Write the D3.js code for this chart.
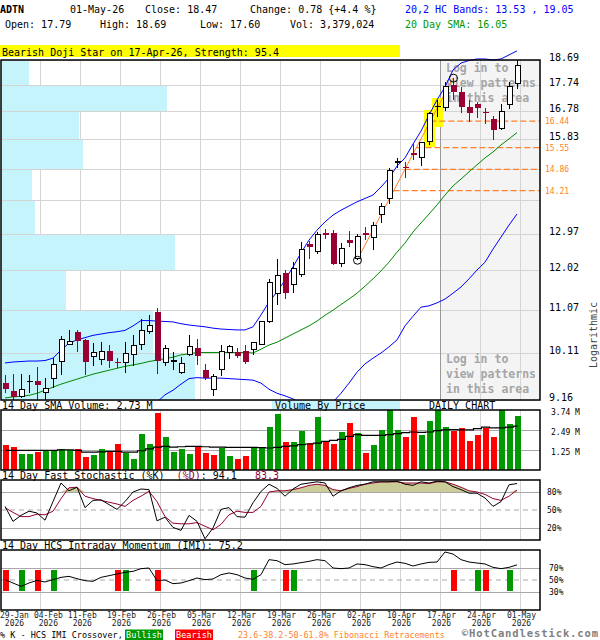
<!DOCTYPE html>
<html><head><meta charset="utf-8">
<script src="https://cdn.jsdelivr.net/npm/d3@7/dist/d3.min.js"></script>
<style>
html,body{margin:0;padding:0;background:#fff;}
svg{display:block;font-family:"DejaVu Sans Mono",monospace;}
svg text{white-space:pre;}
</style></head><body>
<svg id="c" width="600" height="640"></svg>
<script>
// ---------------- DATA ----------------
const ticker = "ADTN";
const lastDate = "01-May-26";
const lastVolume = 3379024;
const patternText = "Bearish Doji Star on 17-Apr-26, Strength: 95.4";

const open  = [9.50,9.33,9.23,9.51,9.53,9.31,9.59,9.93,10.29,10.56,10.39,10.04,9.98,10.15,9.93,9.91,10.08,10.29,10.57,11.02,9.91,9.92,9.71,10.07,10.21,9.75,9.37,9.77,10.11,10.14,10.15,10.19,10.29,10.79,11.46,11.95,11.68,11.93,12.70,12.52,12.99,12.99,12.20,12.81,12.33,13.01,12.88,13.52,13.98,15.06,14.94,15.37,15.23,15.75,16.95,16.91,17.74,17.49,16.95,17.03,16.76,16.51,16.20,17.03,17.79];
const high  = [9.65,9.67,9.67,9.65,9.81,9.59,10.00,10.47,10.61,10.61,10.40,10.32,10.35,10.28,10.00,10.35,10.50,10.85,10.95,11.10,10.28,10.14,10.03,10.50,10.40,9.88,9.67,10.28,10.28,10.21,10.28,10.35,10.80,11.80,12.31,12.03,12.24,12.77,12.79,13.04,13.11,13.08,12.72,13.06,12.97,13.17,13.31,13.84,14.89,15.23,15.08,15.69,15.75,16.77,17.19,17.84,17.99,17.67,17.19,17.13,16.89,16.63,17.03,17.84,18.69];
const low   = [9.29,9.16,9.20,9.29,9.16,9.16,9.39,9.65,10.28,10.14,9.65,9.84,9.86,9.79,9.79,9.69,9.84,10.17,10.53,9.67,9.84,9.75,9.67,10.05,9.86,9.55,9.24,9.63,9.98,10.00,9.88,10.07,10.28,10.76,11.18,11.31,11.47,11.86,12.30,12.43,12.83,12.16,12.11,12.63,12.28,12.81,12.55,13.27,13.81,14.90,14.58,15.15,14.97,15.64,16.59,16.79,17.19,16.71,16.42,16.56,16.33,15.80,16.14,16.85,17.60];
const close = [9.37,9.21,9.37,9.52,9.46,9.39,9.87,10.40,10.35,10.37,9.93,10.12,10.15,9.95,9.89,10.09,10.28,10.59,10.70,9.94,10.21,9.96,9.89,10.24,10.05,9.59,9.62,10.14,10.24,10.05,9.93,10.33,10.79,11.71,11.89,11.46,12.07,12.55,12.63,12.97,12.94,12.18,12.59,12.72,12.90,12.95,13.22,13.74,14.82,15.12,14.89,15.31,15.73,16.69,16.95,17.67,17.49,16.95,16.74,16.91,16.74,16.14,16.79,17.69,18.47];

const bandUpper = [9.90,9.92,9.93,9.94,9.94,9.95,10.00,10.17,10.32,10.39,10.44,10.49,10.52,10.55,10.57,10.60,10.70,10.82,10.82,10.81,10.80,10.79,10.75,10.72,10.70,10.68,10.65,10.63,10.62,10.61,10.61,10.68,10.95,11.25,11.49,11.78,12.11,12.47,12.81,13.08,13.31,13.50,13.64,13.76,13.88,13.98,14.08,14.32,14.59,14.96,15.22,15.67,16.10,16.65,17.19,17.66,18.30,18.57,18.67,18.73,18.73,18.69,18.73,18.89,19.05];
const bandLower = [null,null,null,null,null,null,null,null,null,null,null,null,null,null,null,null,null,null,null,9.12,9.26,9.35,9.47,9.58,9.60,9.59,9.59,9.59,9.58,9.57,9.56,9.55,9.49,9.37,9.29,9.24,9.18,9.10,9.05,9.01,9.03,9.12,9.29,9.49,9.71,9.88,10.00,10.11,10.24,10.39,10.70,10.92,11.13,11.16,11.23,11.32,11.46,11.61,11.81,12.03,12.23,12.57,12.89,13.22,13.53];
const sma20 = [9.20,9.22,9.23,9.25,9.29,9.35,9.41,9.47,9.52,9.57,9.62,9.67,9.71,9.75,9.79,9.83,9.86,9.89,9.93,9.96,9.99,10.02,10.07,10.09,10.12,10.12,10.12,10.12,10.12,10.12,10.12,10.11,10.19,10.28,10.34,10.43,10.52,10.61,10.70,10.81,10.94,11.06,11.19,11.32,11.46,11.63,11.81,12.01,12.23,12.49,12.73,13.03,13.28,13.53,13.79,14.08,14.35,14.56,14.78,15.00,15.22,15.41,15.64,15.84,16.05];

const volume = [1.56,1.43,0.99,0.99,1.11,1.22,1.22,1.30,1.22,1.30,0.80,0.93,1.30,1.16,1.62,1.07,0.67,2.25,1.62,3.57,2.06,1.11,1.30,0.99,1.43,1.05,0.93,1.37,0.86,0.67,0.86,1.43,1.43,2.69,3.51,1.74,1.74,2.44,1.68,3.32,1.81,1.62,2.37,2.94,2.31,1.05,1.56,2.50,3.74,2.50,2.06,3.32,2.19,3.07,3.74,2.69,2.44,2.63,1.81,2.19,2.63,2.06,3.74,2.88,3.38];
const volumeUp = [0,0,1,1,0,1,1,1,1,0,0,1,1,0,0,1,1,1,1,0,1,1,1,1,0,0,0,1,1,0,0,1,1,1,1,0,1,1,0,1,0,0,1,0,1,0,1,1,1,1,0,0,1,1,1,1,0,0,0,0,0,0,1,1,1];
const volumeSma = [1.22,1.22,1.22,1.22,1.22,1.22,1.22,1.26,1.26,1.22,1.11,1.11,1.13,1.16,1.16,1.11,1.11,1.20,1.32,1.43,1.47,1.43,1.45,1.47,1.47,1.45,1.43,1.43,1.41,1.41,1.41,1.41,1.39,1.37,1.41,1.47,1.51,1.58,1.62,1.68,1.79,1.85,1.91,2.10,2.21,2.16,2.16,2.16,2.21,2.27,2.33,2.37,2.35,2.37,2.46,2.50,2.52,2.50,2.50,2.58,2.67,2.63,2.63,2.67,2.73];
const volumeTicks = [1.25,2.49,3.74];

const stochK = [56,31,41,48,45,33,64,95,82,88,54,66,67,59,51,64,80,85,84,32,38,21,16,41,31,2,20,51,54,39,38,62,81,93,86,73,85,93,95,97,95,73,82,87,91,93,97,97,97,98,93,91,97,95,98,97,89,84,78,78,70,56,64,92,94.1];
const stochD = [54,46,39,39,43,42,48,69,87,88,73,69,66,63,60,56,66,73,81,64,39,28,27,27,29,23,17,26,42,48,46,46,56,80,82,82,84,87,91,93,91,84,82,86,89,93,95,97,97,97,95,95,95,94,97,97,93,88,82,80,76,69,66,73,83.3];
const imi = [50.6,45,39.4,45,49.4,46.7,50.6,54.4,56.1,52.2,48.9,47.8,54.4,57.2,60,62.8,64.4,68.9,70,48.9,50,43.9,45,48.9,53.3,50.6,51.7,58.9,61.7,58.9,53.3,51.1,58.9,83.9,82.2,75.6,76.7,78.9,81.1,83.9,82.2,70,68.9,70,76.7,75.6,72.2,70,75.6,80,77.8,73.3,76.7,79.4,80,96.7,93.3,83.9,80,78.3,76.7,71.1,68.9,71.1,75.2];
const crossBull = [2,6,15,31,36,59,63];
const crossBear = [0,4,14,19,35,56,60];

const priceTicks = [9.16,10.11,11.07,12.02,12.97,13.92,14.88,15.83,16.78,17.74,18.69];
const priceTickHidden = [13.92,14.88];
const fibLevels = [16.44,15.55,14.86,14.21];
const fibLowIdx = 44, fibHighIdx = 56;
const patternIdx = [53,54];
// volume by price, one value per price band (bottom band first), millions of shares
const vbp = [24.3,19.0,8.1,21.8,4.3,3.9,10.2,9.7,20.7,3.5];
const dateLabels = ["29-Jan","04-Feb","11-Feb","19-Feb","26-Feb","05-Mar","12-Mar","19-Mar","26-Mar","02-Apr","10-Apr","17-Apr","24-Apr","01-May"];
const yearLabel = "2026";

// ---------------- CHART ----------------
const svg = d3.select("#c");
const N = close.length;
const idx = d3.range(N);
const PL = 1, PR = 540;
const x = d3.scaleLinear().domain([0, N-1]).range([5, 517]);
const y = d3.scaleLog().domain([9.16, 18.69]).range([400, 60]);
const yVol = d3.scaleLinear().domain([0, 3.74]).range([470, 410]);
const yS = d3.scaleLinear().domain([0, 100]).range([540, 480]);
const yI = d3.scaleLinear().domain([0, 100]).range([610, 550]);
const xVbp = d3.scaleLinear().domain([0, 67.5]).range([0, 540]);

const RED = "#990033", VRED = "#ff0000", VGREEN = "#009900";
const GRID = "#d4d4d4", HGRID = "#a8a8a8";

svg.append("rect").attr("width",600).attr("height",640).attr("fill","#fff");

function T(xx, yy, s, size, fill, weight, anchor) {
  return svg.append("text").attr("x",xx).attr("y",yy).text(s)
    .attr("font-size",size).attr("fill",fill||"#000")
    .attr("font-weight",weight||"normal").attr("text-anchor",anchor||"start");
}

// header
const last = N-1;
const chg = close[last]-close[last-1];
T(0,13,ticker,10,"#000","bold");
T(70,13,lastDate,10);
T(145,13,"Close: "+close[last].toFixed(2),10);
T(250,13,"Change: "+chg.toFixed(2)+" {+"+(chg/close[last-1]*100).toFixed(1)+" %}",10);
T(405,13,"20,2 HC Bands: "+bandLower[last].toFixed(2)+" , "+bandUpper[last].toFixed(2),10,"#0000ff");
T(5,28,"Open: "+open[last].toFixed(2),10);
T(100,28,"High: "+high[last].toFixed(2),10);
T(200,28,"Low: "+low[last].toFixed(2),10);
T(290,28,"Vol: "+d3.format(",")(lastVolume),10);
T(405,28,"20 Day SMA: "+sma20[last].toFixed(2),10,"#009900");
svg.append("rect").attr("x",0).attr("y",45).attr("width",400).attr("height",12).attr("fill","#ffff00");
T(2,55.5,patternText,10);

// tick positions (every 5 sessions back from the last one)
const tickX = dateLabels.map((d,k)=> x(last - 5*(dateLabels.length-1-k)) + 3);

// ---- main panel ----
const main = svg.append("g").attr("shape-rendering","crispEdges");
const patX = x(patternIdx[1]) + 3;
main.append("rect").attr("x",patX).attr("y",60).attr("width",PR-patX).attr("height",340).attr("fill","#f4f4f4");
main.selectAll(".hg").data(priceTicks).join("line")
  .attr("x1",PL).attr("x2",PR).attr("y1",d=>Math.round(y(d))+0.5).attr("y2",d=>Math.round(y(d))+0.5)
  .attr("stroke",GRID);
main.selectAll(".vg").data(tickX.filter(t=>t>5)).join("line")
  .attr("x1",d=>d+0.5).attr("x2",d=>d+0.5).attr("y1",60).attr("y2",400).attr("stroke",GRID);
// volume by price
main.selectAll(".vbp").data(vbp).join("rect")
  .attr("x",PL).attr("width",d=>xVbp(d))
  .attr("y",(d,i)=>Math.round(y(priceTicks[i+1]))+1)
  .attr("height",(d,i)=>Math.round(y(priceTicks[i]))-Math.round(y(priceTicks[i+1]))-1)
  .attr("fill","#c6f4fc");
main.append("line").attr("x1",patX+0.5).attr("x2",patX+0.5).attr("y1",60).attr("y2",400).attr("stroke","#999");
// pattern highlight
main.selectAll(".pat").data(patternIdx).join("rect")
  .attr("x",i=>x(i)-5).attr("width",11)
  .attr("y",i=>y(high[i])-2).attr("height",(i,k)=>y(low[i])-y(high[i])+(k==1?12:4))
  .attr("fill","#ffff00");

// login texts
[[71.5,"Log in to"],[86.5,"view patterns"],[101.5,"in this area"],[363,"Log in to"],[378,"view patterns"],[393,"in this area"]]
  .forEach(([yy,s])=>T(446,yy,s,11.5,"#a6a6a6","bold"));

// fib
const fx0 = x(fibLowIdx), fy0 = y(low[fibLowIdx]), fx1 = x(fibHighIdx), fy1 = y(high[fibHighIdx]);
const gl = svg.append("g");
fibLevels.forEach(l=>{
  const yy = y(l), t = (yy-fy0)/(fy1-fy0), xs = fx0 + t*(fx1-fx0);
  gl.append("line").attr("x1",xs).attr("x2",PR).attr("y1",yy).attr("y2",yy)
    .attr("stroke","#ff7f2a").attr("stroke-width",1.3).attr("stroke-dasharray","6,3");
  T(545,yy+3,l.toFixed(2),8,"#ff7f2a");
});
gl.append("line").attr("x1",fx0).attr("y1",fy0).attr("x2",fx1).attr("y2",fy1).attr("stroke","#ff7f2a").attr("stroke-width",1);

// bands / sma
svg.append("clipPath").attr("id","mclip").append("rect").attr("x",PL).attr("y",40).attr("width",PR-PL).attr("height",360);
const lg = svg.append("g").attr("clip-path","url(#mclip)");
const pline = arr => d3.line().defined((d,i)=>arr[i]!=null).x((d,i)=>x(i)).y(d=>y(d))(arr);
lg.append("path").attr("d",pline(bandUpper)).attr("fill","none").attr("stroke","#0000ff").attr("stroke-width",1);
lg.append("path").attr("d",pline(bandLower)).attr("fill","none").attr("stroke","#0000ff").attr("stroke-width",1);
lg.append("path").attr("d",pline(sma20)).attr("fill","none").attr("stroke","#008800").attr("stroke-width",1);

// candles
const cg = svg.append("g").attr("shape-rendering","crispEdges");
idx.forEach(i=>{
  const up = close[i] >= open[i];
  const col = up ? "#000" : RED;
  const cx = x(i);
  cg.append("line").attr("x1",cx+0.5).attr("x2",cx+0.5).attr("y1",y(high[i])).attr("y2",y(low[i])).attr("stroke",col);
  const top = y(Math.max(open[i],close[i])), bot = y(Math.min(open[i],close[i]));
  if (up) {
    const h = Math.max(bot-top, 0);
    if (h < 1.5) cg.append("line").attr("x1",cx-2.5).attr("x2",cx+3.5).attr("y1",top).attr("y2",top).attr("stroke","#000").attr("stroke-width",1.5);
    else cg.append("rect").attr("x",cx-2).attr("y",top).attr("width",5).attr("height",h).attr("fill","#fff").attr("stroke","#000");
  } else {
    cg.append("rect").attr("x",cx-2.5).attr("y",top).attr("width",6).attr("height",Math.max(bot-top,1.5)).attr("fill",RED);
  }
});
svg.append("circle").attr("cx",fx0+0.5).attr("cy",fy0).attr("r",4).attr("fill","none").attr("stroke","#000");
svg.append("circle").attr("cx",fx1+0.5).attr("cy",fy1).attr("r",4).attr("fill","none").attr("stroke","#000");

// border + axis labels
svg.append("rect").attr("x",PL).attr("y",60).attr("width",PR-PL).attr("height",340).attr("fill","none").attr("stroke","#000").attr("stroke-width",1.5);
priceTicks.filter(p=>!priceTickHidden.includes(p)).forEach(p=>T(549,y(p)+1,p.toFixed(2),10));
svg.append("text").attr("transform","translate(597,335) rotate(-90)").attr("text-anchor","middle")
  .attr("font-size",10).attr("fill","#444").text("Logarithmic");

// ---- volume panel ----
T(2,408.5,"14 Day SMA Volume: "+volumeSma[last].toFixed(2)+" M",10);
svg.append("rect").attr("x",272).attr("y",401).attr("width",128).attr("height",9).attr("fill","#c6f4fc");
T(275,408.5,"Volume By Price",10);
T(429,408.5,"DAILY CHART",10);
const vg = svg.append("g").attr("shape-rendering","crispEdges");
vg.selectAll(".vvg").data(tickX.filter(t=>t>5)).join("line")
  .attr("x1",d=>d+0.5).attr("x2",d=>d+0.5).attr("y1",410).attr("y2",470).attr("stroke",GRID);
vg.selectAll(".vhg").data(volumeTicks.slice(0,2)).join("line")
  .attr("x1",PL).attr("x2",PR).attr("y1",d=>Math.round(yVol(d))+0.5).attr("y2",d=>Math.round(yVol(d))+0.5).attr("stroke",HGRID);
vg.selectAll(".vb").data(volume).join("rect")
  .attr("x",(d,i)=>x(i)-2.5).attr("width",6)
  .attr("y",d=>yVol(d)).attr("height",d=>470-yVol(d))
  .attr("fill",(d,i)=>volumeUp[i]?VGREEN:VRED);
svg.append("path").attr("d",d3.line().curve(d3.curveStep).x((d,i)=>x(i)+0.5).y(d=>yVol(d))(volumeSma))
  .attr("fill","none").attr("stroke","#000").attr("stroke-width",1.2);
svg.append("rect").attr("x",PL).attr("y",410).attr("width",PR-PL).attr("height",60).attr("fill","none").attr("stroke","#000").attr("stroke-width",1.5);
volumeTicks.forEach(v=>T(551,yVol(v)+5,v.toFixed(2)+" M",8));

// ---- stochastic panel ----
const st = T(2,478.5,"14 Day Fast Stochastic (%K)  ",10);
st.append("tspan").attr("fill",RED).text("(%D)");
st.append("tspan").text(": "+stochK[last].toFixed(1)+"   ");
st.append("tspan").attr("fill",RED).text(stochD[last].toFixed(1));
const sg = svg.append("g");
sg.selectAll(".svg").data(tickX.filter(t=>t>5)).join("line").attr("shape-rendering","crispEdges")
  .attr("x1",d=>d+0.5).attr("x2",d=>d+0.5).attr("y1",480).attr("y2",540).attr("stroke",GRID);
sg.append("path").attr("d",d3.area().x((d,i)=>x(i)).y0(yS(80)).y1(d=>yS(Math.max(d,80)))(stochD)).attr("fill","#cccc99");
[80,20].forEach(v=>sg.append("line").attr("shape-rendering","crispEdges").attr("x1",PL).attr("x2",PR).attr("y1",Math.round(yS(v))+0.5).attr("y2",Math.round(yS(v))+0.5).attr("stroke",HGRID));
sg.append("line").attr("x1",PL).attr("x2",PR).attr("y1",yS(50)).attr("y2",yS(50)).attr("stroke",HGRID).attr("stroke-dasharray","5,4");
sg.append("path").attr("d",d3.line().x((d,i)=>x(i)).y(d=>yS(d))(stochD)).attr("fill","none").attr("stroke",RED).attr("stroke-width",1);
sg.append("path").attr("d",d3.line().x((d,i)=>x(i)).y(d=>yS(d))(stochK)).attr("fill","none").attr("stroke","#000").attr("stroke-width",1);
svg.append("rect").attr("x",PL).attr("y",480).attr("width",PR-PL).attr("height",60).attr("fill","none").attr("stroke","#000").attr("stroke-width",1.5);
[80,50,20].forEach(v=>T(547,yS(v)+3,v+"%",8));

// ---- IMI panel ----
T(2,549,"14 Day HCS Intraday Momentum (IMI): "+imi[last].toFixed(1),10);
const ig = svg.append("g");
ig.selectAll(".ivg").data(tickX.filter(t=>t>5)).join("line").attr("shape-rendering","crispEdges")
  .attr("x1",d=>d+0.5).attr("x2",d=>d+0.5).attr("y1",550).attr("y2",610).attr("stroke",GRID);
[70,30].forEach(v=>ig.append("line").attr("shape-rendering","crispEdges").attr("x1",PL).attr("x2",PR).attr("y1",Math.round(yI(v))+0.5).attr("y2",Math.round(yI(v))+0.5).attr("stroke",HGRID));
ig.append("line").attr("x1",PL).attr("x2",PR).attr("y1",yI(50)).attr("y2",yI(50)).attr("stroke",HGRID).attr("stroke-dasharray","5,4");
const cross = crossBull.map(i=>({i,c:VGREEN})).concat(crossBear.map(i=>({i,c:VRED})));
ig.selectAll(".cb").data(cross).join("rect").attr("shape-rendering","crispEdges")
  .attr("x",d=>x(d.i)-2.5).attr("width",6).attr("y",yI(67)).attr("height",yI(32)-yI(67)).attr("fill",d=>d.c);
ig.append("path").attr("d",d3.line().x((d,i)=>x(i)).y(d=>yI(d))(imi)).attr("fill","none").attr("stroke","#000").attr("stroke-width",1);
svg.append("rect").attr("x",PL).attr("y",550).attr("width",PR-PL).attr("height",60).attr("fill","none").attr("stroke","#000").attr("stroke-width",1.5);
[70,50,30].forEach(v=>T(549,yI(v)+3,v+"%",8));

// ---- date axis (date + year as one two-line label) ----
const cw = 4.82;
let prevRight = -10;
dateLabels.forEach((d,k)=>{
  const w = d.length*cw;
  let left = tickX[k] + 1.5 - w/2;
  if (left < 0) left = 0;
  if (left < prevRight + 5) left = prevRight + 5;
  prevRight = left + w;
  const c = left + w/2;
  const t = svg.append("text").attr("font-size",8).attr("fill","#222").attr("text-anchor","middle").attr("y",618.3);
  t.append("tspan").attr("x",c).text(d);
  t.append("tspan").attr("x",c).attr("dy",7.5).text(yearLabel);
});

// ---- legend ----
T(0,637.5,"% K - HCS IMI Crossover,",8.5);
svg.append("rect").attr("x",125).attr("y",629.5).attr("width",38).attr("height",10.5).attr("fill",VGREEN);
T(144,637.5,"Bullish",8.5,"#fff","normal","middle");
svg.append("rect").attr("x",175).attr("y",629.5).attr("width",38).attr("height",10.5).attr("fill",VRED);
T(194,637.5,"Bearish",8.5,"#fff","normal","middle");
T(238,637.5,"23.6-38.2-50-61.8% Fibonacci Retracements",8.4,"#ff7f2a");
T(599,637.4,"\u00a9HotCandlestick.com",10.5,"#808080","bold","end").attr("letter-spacing",0.9);
</script></body></html>
